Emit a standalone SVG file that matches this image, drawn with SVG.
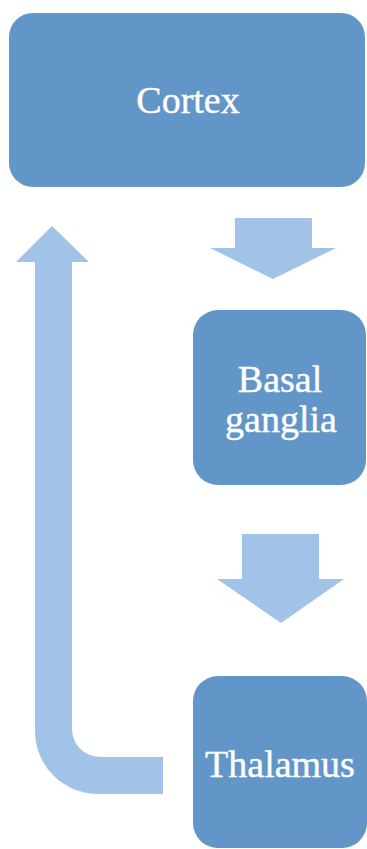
<svg xmlns="http://www.w3.org/2000/svg" width="367" height="849" viewBox="0 0 367 849">
  <style>
    .box { fill: #6396C8; }
    .arrow { fill: #A1C3E8; }
    .label { font-family: 'Liberation Serif', 'DejaVu Serif', serif; font-size: 38px; fill: #FFFFFF; stroke: #FFFFFF; stroke-width: 0.4; text-anchor: middle; }
  </style>
  <rect width="367" height="849" fill="#FFFFFF"/>
  <g id="connectors">
    <!-- Cortex to Basal ganglia -->
    <polygon class="arrow" points="235,218 312,218 312,248 336,248 273,279 210,248 235,248"/>
    <!-- Basal ganglia to Thalamus -->
    <polygon class="arrow" points="242,534 319,534 319,579 344,579 281,623 217,579 242,579"/>
    <!-- Thalamus back up to Cortex -->
    <path class="arrow" d="M163,757 L100,757 A28,28 0 0 1 72,729 L72,262 L89,262 L52,226 L16,262 L35,262 L35,731 A63,63 0 0 0 98,794 L163,794 Z"/>
  </g>
  <g id="cortex">
    <rect class="box" x="9" y="13" width="356" height="174" rx="24"/>
    <text class="label" x="188" y="113">Cortex</text>
  </g>
  <g id="basal-ganglia">
    <rect class="box" x="193" y="310" width="173" height="175" rx="25"/>
    <text class="label" x="280" y="392">Basal</text>
    <text class="label" x="281" y="432">ganglia</text>
  </g>
  <g id="thalamus">
    <rect class="box" x="193" y="676" width="174" height="172" rx="25"/>
    <text class="label" x="280" y="777">Thalamus</text>
  </g>
</svg>
